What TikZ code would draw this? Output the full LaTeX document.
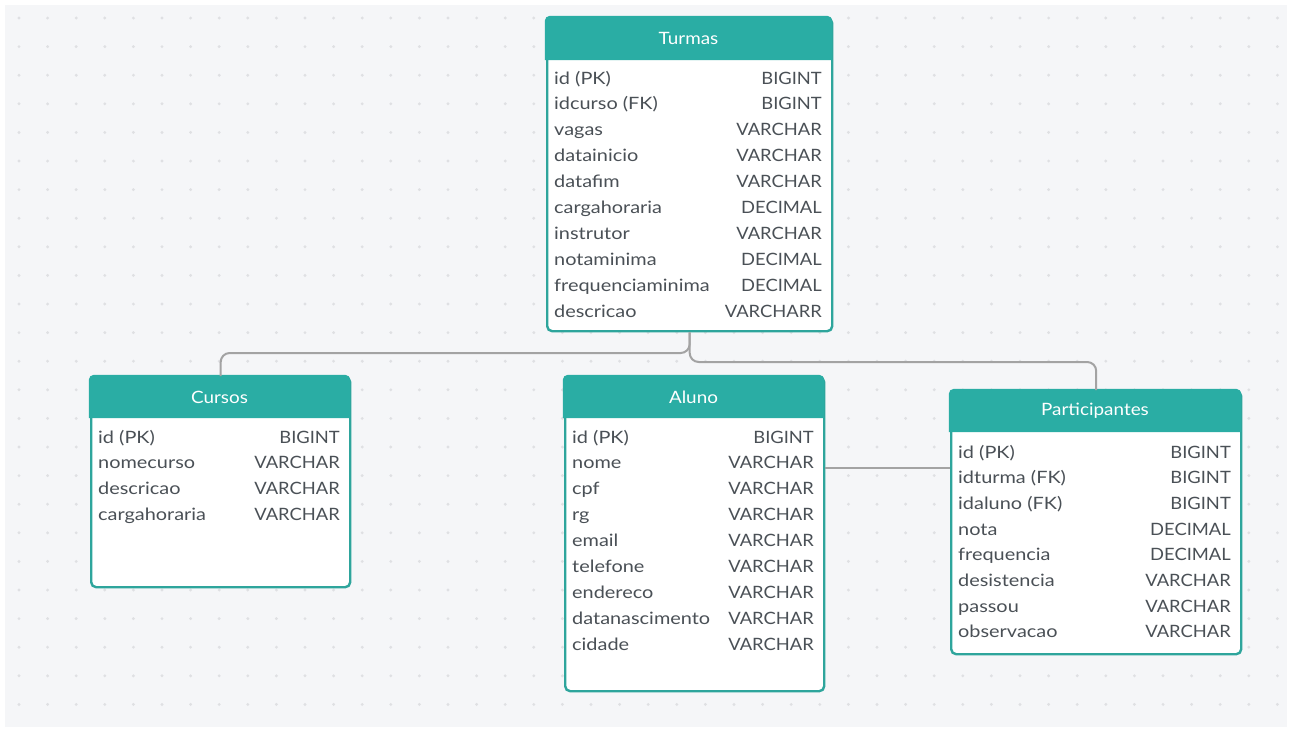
\documentclass[tikz,border=0pt]{standalone}
\usepackage{fontspec}
\setmainfont{Lato}
\newfontfamily\fieldfont[FakeStretch=1.17]{Lato}
\newfontfamily\typefont[FakeStretch=1.08]{Lato}
\newfontfamily\titlefont[FakeStretch=1.11]{Lato}
\usetikzlibrary{calc}
\definecolor{teal1}{HTML}{2AADA4}
\definecolor{teal2}{HTML}{2EA59C}
\definecolor{bggray}{HTML}{F5F6F8}
\definecolor{dotgray}{HTML}{DFE0E3}
\definecolor{txt}{HTML}{4A5056}
\definecolor{conn}{HTML}{A3A3A3}
\tikzset{
  x=1pt, y=-1pt,
  tablebox/.style={draw=teal2, line width=2.4pt, fill=white, rounded corners=5pt, inner sep=0pt},
  headtext/.style={text=white, font=\titlefont\fontsize{17}{20}\selectfont, inner sep=0pt},
  fieldtext/.style={text=txt, font=\fieldfont\fontsize{17}{20}\selectfont, inner sep=0pt, anchor=base west},
  typetext/.style={text=txt, font=\typefont\fontsize{17}{20}\selectfont, inner sep=0pt, anchor=base east},
  connector/.style={draw=conn, line width=2pt, rounded corners=9pt},
}
% #1 name, #2 x1, #3 top, #4 x2, #5 bottom, #6 header bottom, #7 title
\newcommand\ertable[7]{%
  \node[tablebox, minimum width={(#4-#2)*1pt}, minimum height={(#5-#3)*1pt}, anchor=north west] (#1) at (#2,#3) {};
  \fill[teal1] (#2-1.2,#6) {[rounded corners=5pt] -- (#2-1.2,#3-1.2) -- (#4+1.2,#3-1.2)} -- (#4+1.2,#6) -- cycle;
  \node[headtext] (#1-title) at ({(#2+#4)/2},{(#3+#6)/2}) {#7};
}
% #1 table name, #2 x left, #3 x right, #4 baseline y, #5 field, #6 type, #7 index
\newcommand\errow[7]{%
  \pgfmathsetmacro\rowy{#4}%
  \node[fieldtext] (#1-f#7) at (#2,\rowy) {#5};
  \node[typetext] (#1-t#7) at (#3,\rowy) {#6};
}
\begin{document}
\begin{tikzpicture}
\useasboundingbox (0,0) rectangle (1292,732);
\fill[white] (0,0) rectangle (1292,732);
\fill[bggray] (5,5) rectangle (1287,727);
\foreach \i in {0,...,44} {
  \foreach \j in {0,...,24} {
    \fill[dotgray] ({19+28.6*\i},{18+28.6*\j}) circle (1.6pt);
  }
}

% Turmas
\ertable{turmas}{546}{17}{831}{330}{60}{Turmas}
\foreach \f/\t [count=\k] in {id (PK)/BIGINT, idcurso (FK)/BIGINT, vagas/VARCHAR, datainicio/VARCHAR, datafim/VARCHAR, cargahoraria/DECIMAL, instrutor/VARCHAR, notaminima/DECIMAL, frequenciaminima/DECIMAL, descricao/VARCHARR} {
  \errow{turmas}{554}{822}{84+25.9*(\k-1)}{\f}{\t}{\k}
}

% Cursos
\ertable{cursos}{90}{376}{349}{586}{418}{Cursos}
\foreach \f/\t [count=\k] in {id (PK)/BIGINT, nomecurso/VARCHAR, descricao/VARCHAR, cargahoraria/VARCHAR} {
  \errow{cursos}{98}{340}{443+25.9*(\k-1)}{\f}{\t}{\k}
}

% Aluno
\ertable{aluno}{564}{376}{823}{690}{418}{Aluno}
\foreach \f/\t [count=\k] in {id (PK)/BIGINT, nome/VARCHAR, cpf/VARCHAR, rg/VARCHAR, email/VARCHAR, telefone/VARCHAR, endereco/VARCHAR, datanascimento/VARCHAR, cidade/VARCHAR} {
  \errow{aluno}{572}{814}{443+25.9*(\k-1)}{\f}{\t}{\k}
}

% Participantes
\ertable{part}{950}{390}{1240}{653}{432}{Participantes}
\foreach \f/\t [count=\k] in {id (PK)/BIGINT, idturma (FK)/BIGINT, idaluno (FK)/BIGINT, nota/DECIMAL, frequencia/DECIMAL, desistencia/VARCHAR, passou/VARCHAR, observacao/VARCHAR} {
  \errow{part}{958}{1231}{458+25.7*(\k-1)}{\f}{\t}{\k}
}

% connectors
\coordinate (lvl1) at (0,353);
\coordinate (lvl2) at (0,362);
\coordinate (lvl3) at (0,468);
\draw[connector] (turmas.south) |- (cursos.north |- lvl1) -- (cursos.north);
\draw[connector] (turmas.south) |- (part.north |- lvl2) -- (part.north);
\draw[connector] (aluno.east |- lvl3) -- (part.west |- lvl3);
\end{tikzpicture}
\end{document}
